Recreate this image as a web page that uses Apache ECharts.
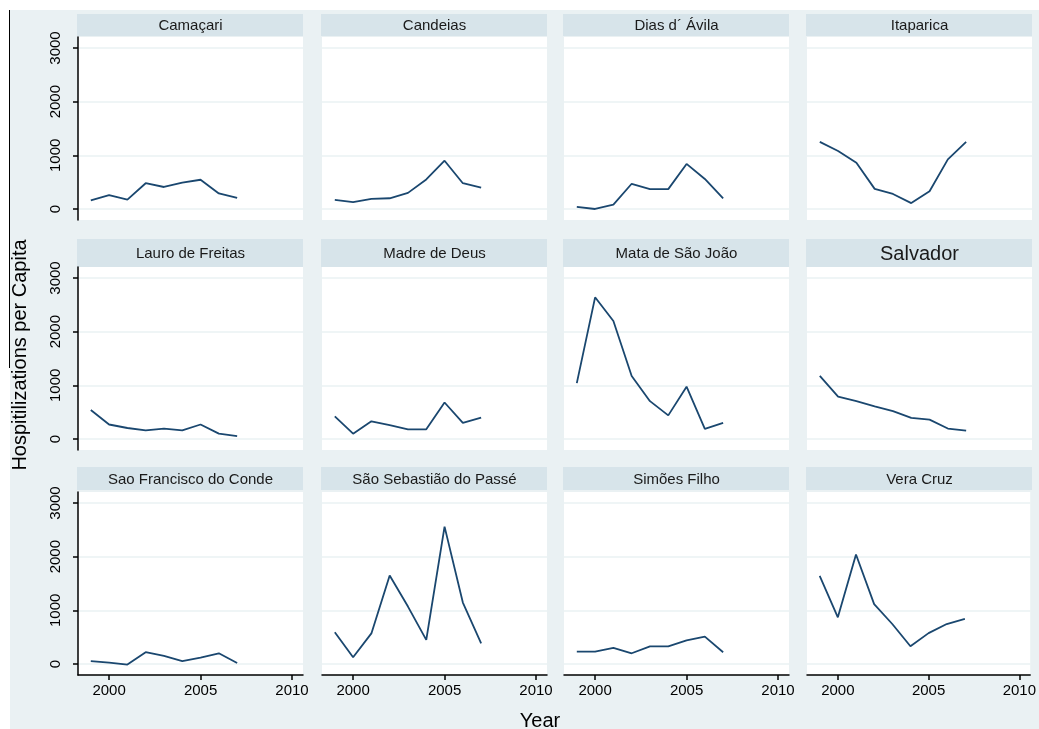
<!DOCTYPE html>
<html>
<head>
<meta charset="utf-8">
<script src="https://cdn.jsdelivr.net/npm/echarts@6/dist/echarts.min.js"></script>
<style>
html,body{margin:0;padding:0;background:#ffffff;}
#chart{width:1039px;height:729px;}
</style>
</head>
<body>
<div id="chart"></div>
<script>
// ---- data ----
const years = [1999, 2000, 2001, 2002, 2003, 2004, 2005, 2006, 2007];
const cities = ["Camaçari", "Candeias", "Dias d´ Ávila", "Itaparica",
                "Lauro de Freitas", "Madre de Deus", "Mata de São João", "Salvador",
                "Sao Francisco do Conde", "São Sebastião do Passé", "Simões Filho", "Vera Cruz"];
const camacari      = [160, 260, 175, 480, 410, 490, 545, 290, 205];
const candeias      = [170, 130, 190, 200, 300, 550, 900, 480, 400];
const diasDAvila    = [40, 0, 80, 470, 370, 370, 840, 560, 200];
const itaparica     = [1250, 1080, 860, 375, 280, 110, 330, 925, 1250];
const lauroFreitas  = [540, 270, 205, 160, 195, 160, 270, 100, 55];
const madreDeus     = [420, 100, 330, 260, 180, 180, 680, 300, 400];
const mataSaoJoao   = [1040, 2640, 2200, 1175, 705, 440, 975, 190, 300];
const salvador      = [1175, 790, 705, 610, 520, 395, 360, 195, 155];
const saoFrancisco  = [55, 25, -10, 220, 150, 55, 120, 200, 20];
const saoSebastiao  = [590, 125, 570, 1650, 1070, 450, 2560, 1145, 385];
const simoesFilho   = [230, 230, 300, 200, 330, 330, 440, 510, 220];
const veraCruz      = [1640, 870, 2040, 1115, 745, 330, 575, 745, 840];
const seriesValues = [camacari, candeias, diasDAvila, itaparica,
                      lauroFreitas, madreDeus, mataSaoJoao, salvador,
                      saoFrancisco, saoSebastiao, simoesFilho, veraCruz];
const yTicks = [0, 1000, 2000, 3000];
const xTicks = [2000, 2005, 2010];
const yTitle = "Hospitilizations per Capita";
const xTitle = "Year";

// ---- layout ----
const colLeft = [78, 322, 564, 807];
const panelW = 225;
const rowTop = [37, 267, 492];
const panelH = 183;
const headerY = [14, 239, 467];
const headerH = [22, 28, 23];
const FONT = "Liberation Sans, Arial, sans-serif";
const BG = "#eaf1f3";
const HEAD = "#d7e4ea";
const GRIDC = "#eaf2f3";
const LINEC = "#1a476f";

const grids = [], xAxes = [], yAxes = [], series = [];
const graphics = [
  {type:'rect', shape:{x:10, y:10, width:1029, height:719}, style:{fill:BG}, silent:true, z:-10},
  {type:'line', shape:{x1:9.5, y1:10, x2:9.5, y2:368}, style:{stroke:'#000', lineWidth:1}, silent:true, z:-9}
];

cities.forEach((name, i) => {
  const r = Math.floor(i / 4), c = i % 4;
  const left = colLeft[c], top = rowTop[r];
  grids.push({left: left, top: top, width: panelW, height: panelH, backgroundColor: '#fff', show: true, borderWidth: 0});
  const isLeft = c === 0, isBottom = r === 2;
  xAxes.push({
    gridIndex: i, type: 'value', min: 1998.3, max: 2010.6,
    axisLine: {show: isBottom, onZero: false, lineStyle: {color: '#000', width: 1.5}},
    axisTick: {show: isBottom, length: 5, customValues: xTicks, lineStyle: {color: '#000', width: 1.5}},
    axisLabel: {show: isBottom, customValues: xTicks, margin: 8, fontSize: 15, color: '#000', fontFamily: FONT,
                formatter: v => String(v)},
    splitLine: {show: false}
  });
  yAxes.push({
    gridIndex: i, type: 'value', min: -205, max: 3205,
    axisLine: {show: isLeft, lineStyle: {color: '#000', width: 1.5}},
    axisTick: {show: isLeft, length: 5, customValues: yTicks, lineStyle: {color: '#000', width: 1.5}},
    axisLabel: {show: isLeft, customValues: yTicks, rotate: 90, margin: 15, fontSize: 15, color: '#000', fontFamily: FONT,
                formatter: v => String(v)},
    splitLine: {show: true, lineStyle: {color: GRIDC, width: 1.5}}
  });
  series.push({
    type: 'line', xAxisIndex: i, yAxisIndex: i, symbol: 'none', animation: false,
    data: years.map((y, k) => [y, seriesValues[i][k]]),
    lineStyle: {color: LINEC, width: 1.8}
  });
  graphics.push({type:'rect', shape:{x:left - 1, y:headerY[r], width:panelW + 1, height:headerH[r]}, style:{fill:HEAD}, silent:true});
  graphics.push({type:'text', x: left + panelW / 2, y: headerY[r] + headerH[r] / 2 + 1,
    style:{text:name, fill:'#1a1a1a', font: (name === 'Salvador' ? '20px ' : '15px ') + FONT, align:'center', verticalAlign:'middle'}, silent:true});
});

graphics.push({type:'text', x: 20, y: 355, rotation: Math.PI / 2,
  style:{text: yTitle, fill:'#000', font:'20px ' + FONT, align:'center', verticalAlign:'middle'}, silent:true});
graphics.push({type:'text', x: 540, y: 721,
  style:{text: xTitle, fill:'#000', font:'20px ' + FONT, align:'center', verticalAlign:'middle'}, silent:true});

const chart = echarts.init(document.getElementById('chart'), null, {renderer: 'canvas'});
chart.setOption({
  animation: false,
  backgroundColor: '#ffffff',
  grid: grids, xAxis: xAxes, yAxis: yAxes, series: series,
  graphic: graphics
});
</script>
</body>
</html>
